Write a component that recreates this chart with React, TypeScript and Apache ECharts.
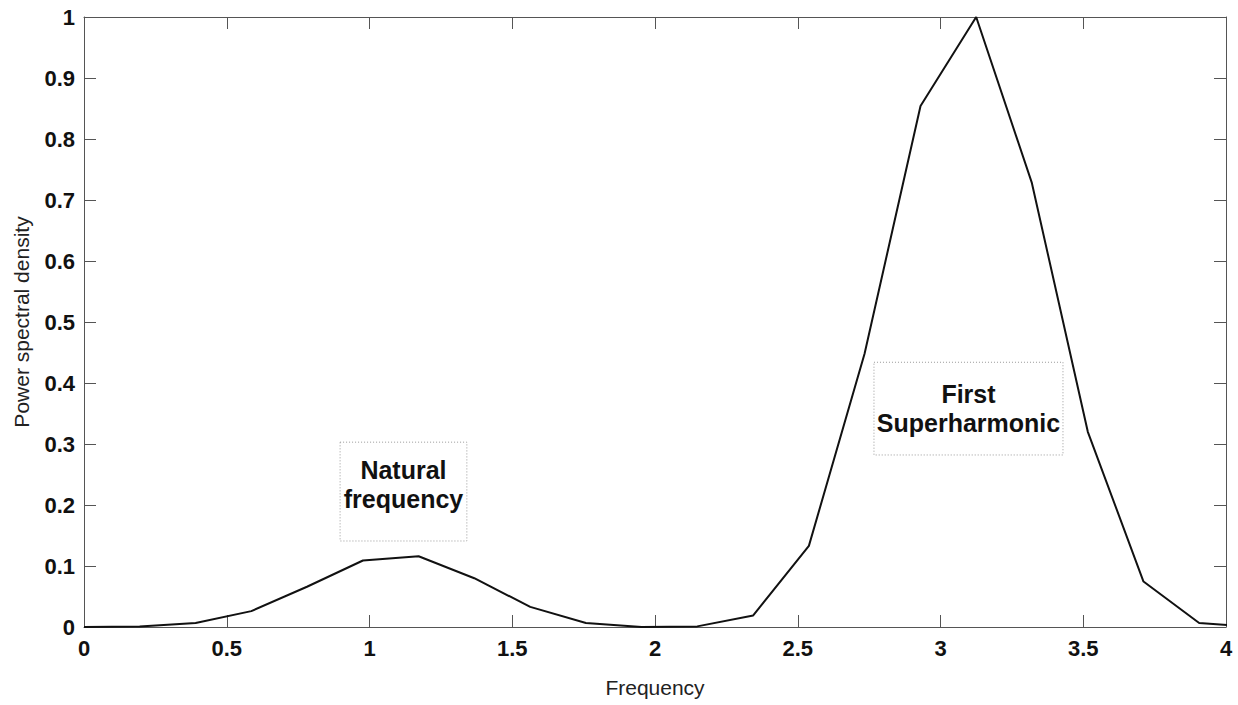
import React, { useEffect, useRef } from "react";
import * as echarts from "echarts";

const frequency = [
  0, 0.195, 0.391, 0.586, 0.781, 0.977, 1.172, 1.367, 1.563, 1.758, 1.953,
  2.148, 2.344, 2.539, 2.734, 2.93, 3.125, 3.32, 3.516, 3.711, 3.906, 4.102,
];
const psd = [
  0, 0.001, 0.0066, 0.026, 0.066, 0.109, 0.116, 0.08, 0.033, 0.0066, 0.0,
  0.001, 0.019, 0.133, 0.448, 0.854, 1.0, 0.728, 0.32, 0.0745, 0.0066, 0.0,
];
const annotations = [
  { text: "Natural\nfrequency", x0: 0.897, x1: 1.341, y0: 0.303, y1: 0.141, dy: -7 },
  { text: "First\nSuperharmonic", x0: 2.767, x1: 3.429, y0: 0.434, y1: 0.282, dy: 0 },
];

const FONT = "'Liberation Sans', Arial, Helvetica, sans-serif";
const AXIS_COLOR = "#555";

export default function App() {
  const ref = useRef<HTMLDivElement>(null);
  useEffect(() => {
    if (!ref.current) return;
    const chart = echarts.init(ref.current, null, { renderer: "svg" });
    const tickCommon = {
      axisLine: { show: true, onZero: false, lineStyle: { color: AXIS_COLOR, width: 1 } },
      axisTick: { show: true, inside: true, length: 12, lineStyle: { color: AXIS_COLOR, width: 1 } },
      splitLine: { show: false },
    };
    chart.setOption({
      animation: false,
      backgroundColor: "#fff",
      grid: { left: 84, right: 12, top: 17, bottom: 78, containLabel: false },
      xAxis: [
        {
          type: "value",
          min: 0,
          max: 4,
          interval: 0.5,
          position: "bottom",
          name: "Frequency",
          nameLocation: "middle",
          nameGap: 50,
          nameTextStyle: { fontFamily: FONT, fontSize: 21, color: "#222" },
          axisLabel: { fontFamily: FONT, fontSize: 22, fontWeight: "bold", color: "#111", margin: 10 },
          ...tickCommon,
        },
        {
          type: "value",
          min: 0,
          max: 4,
          interval: 0.5,
          position: "top",
          axisLabel: { show: false },
          ...tickCommon,
        },
      ],
      yAxis: [
        {
          type: "value",
          min: 0,
          max: 1,
          interval: 0.1,
          position: "left",
          name: "Power spectral density",
          nameLocation: "middle",
          nameGap: 52,
          nameRotate: 90,
          nameTextStyle: { fontFamily: FONT, fontSize: 21, color: "#222" },
          axisLabel: { fontFamily: FONT, fontSize: 22, fontWeight: "bold", color: "#111", margin: 9 },
          ...tickCommon,
        },
        {
          type: "value",
          min: 0,
          max: 1,
          interval: 0.1,
          position: "right",
          axisLabel: { show: false },
          ...tickCommon,
        },
      ],
      series: [
        {
          type: "line",
          xAxisIndex: 0,
          yAxisIndex: 0,
          data: frequency.map((f, i) => [f, psd[i]]),
          showSymbol: false,
          clip: true,
          lineStyle: { color: "#111", width: 2 },
          markArea: {
            silent: true,
            itemStyle: {
              color: "rgba(0,0,0,0)",
              borderColor: "#999",
              borderWidth: 1,
              borderType: [1, 2],
            },
            label: {
              show: true,
              position: "inside",
              fontFamily: FONT,
              fontSize: 25,
              fontWeight: "bold",
              color: "#111",
              lineHeight: 29,
              align: "center",
            },
            data: annotations.map((a) => [
              {
                xAxis: a.x0,
                yAxis: a.y0,
                label: { formatter: a.text, offset: [0, a.dy] },
              },
              { xAxis: a.x1, yAxis: a.y1 },
            ]),
          },
        },
      ],
    });
    return () => chart.dispose();
  }, []);
  return (
    <div
      ref={ref}
      style={{ position: "fixed", left: 0, top: 0, width: 1238, height: 705, background: "#fff" }}
    />
  );
}
